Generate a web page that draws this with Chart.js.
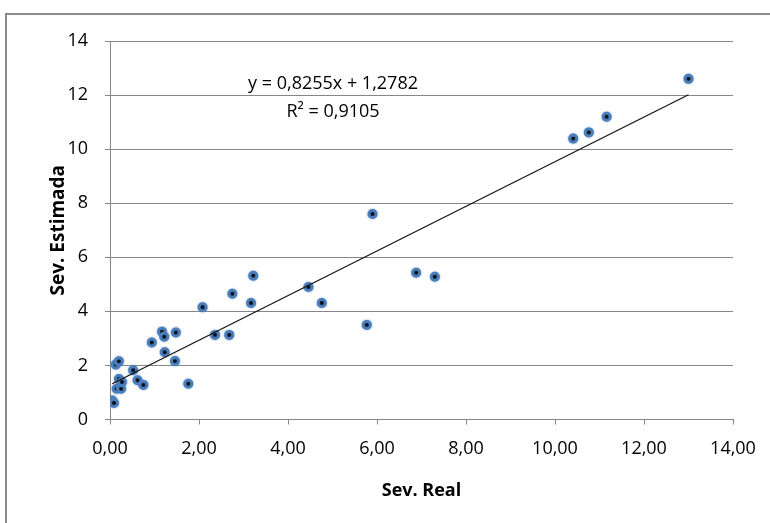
<!DOCTYPE html>
<html>
<head>
<meta charset="utf-8">
<title>Sev. Real x Sev. Estimada</title>
<script src="https://cdn.jsdelivr.net/npm/chart.js@4.4.0/dist/chart.umd.min.js"></script>
<style>
  html, body { margin: 0; padding: 0; background: #fff; }
  canvas { display: block; }
</style>
</head>
<body>
<canvas id="scatterChart" width="770" height="523"></canvas>
<script>
// observed severity vs. estimated severity
const sevReal = [0.05, 0.09, 0.15, 0.25, 0.20, 0.27, 0.13, 0.20, 0.52, 0.62, 0.75,
                 0.94, 1.17, 1.22, 1.48, 1.23, 1.46, 1.76, 2.08, 2.36, 2.68, 2.75,
                 3.17, 3.22, 4.46, 4.76, 5.77, 5.90, 6.88, 7.30, 10.41, 10.76, 11.16, 13.00];
const sevEstimada = [0.70, 0.61, 1.14, 1.14, 1.50, 1.39, 2.03, 2.15, 1.82, 1.45, 1.28,
                     2.85, 3.25, 3.06, 3.22, 2.49, 2.16, 1.32, 4.15, 3.13, 3.13, 4.65,
                     4.31, 5.32, 4.90, 4.31, 3.50, 7.60, 5.43, 5.28, 10.39, 10.62, 11.20, 12.60];

// linear trendline
const slope = 0.8255;
const intercept = 1.2782;
const rSquared = 0.9105;

const xTicks = [0, 2, 4, 6, 8, 10, 12, 14];
const yTicks = [0, 2, 4, 6, 8, 10, 12, 14];

const FONT = '"Open Sans", "DejaVu Sans", sans-serif';
const GRID = '#868686';

const comma = (v, d) => v.toFixed(d).replace('.', ',');

const points = sevReal.map((x, i) => ({ x: x, y: sevEstimada[i] }));
const xMin = Math.min(...sevReal);
const xMax = Math.max(...sevReal);
const trend = [
    { x: xMin, y: slope * xMin + intercept },
    { x: xMax, y: slope * xMax + intercept }
];

// grey frame round the chart (left and top edges only)
const frame = {
    id: 'frame',
    beforeDraw(chart) {
        const ctx = chart.ctx;
        ctx.save();
        ctx.strokeStyle = '#8a8a8a';
        ctx.lineWidth = 2;
        ctx.beginPath();
        ctx.moveTo(6, chart.height);
        ctx.lineTo(6, 14);
        ctx.lineTo(chart.width, 14);
        ctx.stroke();
        ctx.restore();
    }
};

// soft blue halo on the markers
const markerGlow = {
    id: 'markerGlow',
    beforeDatasetDraw(chart, args) {
        if (args.index !== 1) return;
        chart.ctx.save();
        chart.ctx.shadowColor = 'rgba(79,129,189,0.8)';
        chart.ctx.shadowBlur = 2;
    },
    afterDatasetDraw(chart, args) {
        if (args.index !== 1) return;
        chart.ctx.restore();
    }
};

// equation and R² of the trendline
const equationLabel = {
    id: 'equationLabel',
    afterDatasetsDraw(chart) {
        const ctx = chart.ctx;
        ctx.save();
        ctx.fillStyle = '#000';
        ctx.font = '18px ' + FONT;
        ctx.textAlign = 'center';
        ctx.textBaseline = 'middle';
        ctx.fillText('y = ' + comma(slope, 4) + 'x + ' + comma(intercept, 4), 333, 84);
        ctx.fillText('R\u00B2 = ' + comma(rSquared, 4), 333, 112);
        ctx.restore();
    }
};

new Chart(document.getElementById('scatterChart'), {
    type: 'scatter',
    data: {
        datasets: [
            {
                type: 'line',
                data: trend,
                borderColor: '#111',
                borderWidth: 1.2,
                pointRadius: 0,
                fill: false
            },
            {
                data: points,
                pointRadius: 3.6,
                pointBorderWidth: 2.8,
                pointBorderColor: '#4A7EBB',
                pointBackgroundColor: '#000'
            }
        ]
    },
    options: {
        responsive: false,
        animation: false,
        layout: { padding: { left: 0, top: 41, right: 37, bottom: 0 } },
        plugins: {
            legend: { display: false },
            tooltip: { enabled: false }
        },
        scales: {
            x: {
                type: 'linear',
                min: 0,
                max: 14,
                afterBuildTicks: (scale) => { scale.ticks = xTicks.map(v => ({ value: v })); },
                afterFit: (scale) => { scale.height = 103.5; },
                ticks: {
                    color: '#000',
                    font: { family: FONT, size: 18 },
                    padding: 14,
                    callback: (v) => comma(v, 2)
                },
                grid: { drawOnChartArea: false, drawTicks: true, tickLength: 5, color: GRID },
                border: { display: true, color: GRID, width: 1 },
                title: {
                    display: true,
                    text: 'Sev. Real',
                    color: '#000',
                    font: { family: FONT, size: 18, weight: 'bold' },
                    padding: { top: 0, bottom: 21 }
                }
            },
            y: {
                min: 0,
                max: 14,
                afterBuildTicks: (scale) => { scale.ticks = yTicks.map(v => ({ value: v })); },
                afterFit: (scale) => { scale.width = 110; },
                ticks: {
                    color: '#000',
                    font: { family: FONT, size: 18 },
                    padding: 17
                },
                grid: { drawTicks: true, tickLength: 5, color: GRID },
                border: { display: true, color: GRID, width: 1 },
                title: {
                    display: true,
                    text: 'Sev. Estimada',
                    color: '#000',
                    font: { family: FONT, size: 19, weight: 'bold' },
                    padding: { top: 47, bottom: 0 }
                }
            }
        }
    },
    plugins: [frame, markerGlow, equationLabel]
});
</script>
</body>
</html>
